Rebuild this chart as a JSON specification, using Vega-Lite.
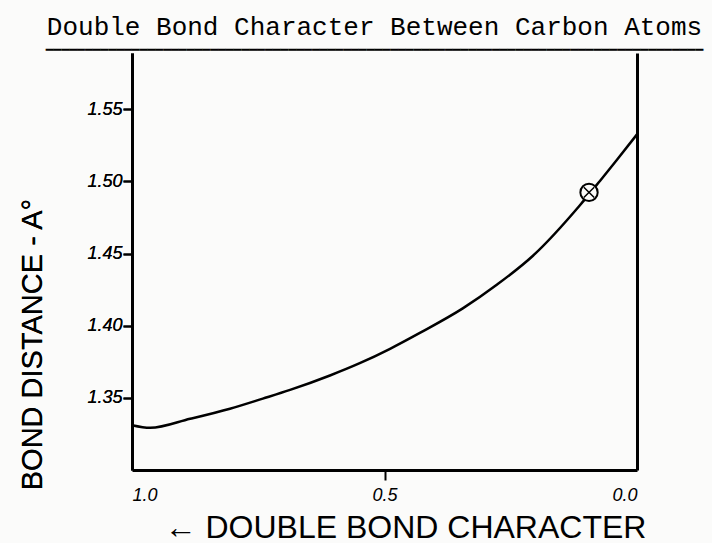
{
  "$schema": "https://vega.github.io/schema/vega-lite/v6.json",
  "width": 505,
  "height": 417,
  "autosize": "none",
  "padding": {"left": 132, "top": 53, "right": 75, "bottom": 73},
  "background": "#fbfbfa",
  "title": {
    "text": "Double Bond Character Between Carbon Atoms",
    "subtitle": "━━━━━━━━━━━━━━━━━━━━━━━━━━━━━━━━━━━━━━━━━━━━━━━━━━━━━━━━━━━━━━━━━━━━━━━━━━━━━━━━━━━━",
    "font": "Liberation Mono",
    "fontSize": 26,
    "fontWeight": "normal",
    "color": "black",
    "subtitleFont": "DejaVu Sans Mono",
    "subtitleFontSize": 13,
    "subtitleColor": "black",
    "subtitlePadding": 4,
    "anchor": "middle",
    "dx": -10,
    "offset": -4
  },
  "data": {
    "values": [
      {"character": 1.0, "distance": 1.331, "series": "curve"},
      {"character": 0.964, "distance": 1.3292, "series": "curve"},
      {"character": 0.885, "distance": 1.3355, "series": "curve"},
      {"character": 0.806, "distance": 1.3425, "series": "curve"},
      {"character": 0.741, "distance": 1.3495, "series": "curve"},
      {"character": 0.687, "distance": 1.3555, "series": "curve"},
      {"character": 0.608, "distance": 1.3655, "series": "curve"},
      {"character": 0.549, "distance": 1.374, "series": "curve"},
      {"character": 0.489, "distance": 1.384, "series": "curve"},
      {"character": 0.43, "distance": 1.395, "series": "curve"},
      {"character": 0.345, "distance": 1.412, "series": "curve"},
      {"character": 0.277, "distance": 1.4285, "series": "curve"},
      {"character": 0.206, "distance": 1.4485, "series": "curve"},
      {"character": 0.113, "distance": 1.4835, "series": "curve"},
      {"character": 0.073, "distance": 1.5005, "series": "curve"},
      {"character": 0.04, "distance": 1.5148, "series": "curve"},
      {"character": 0.0, "distance": 1.5326, "series": "curve"},
      {"character": 0.095, "distance": 1.4924, "series": "marker"}
    ]
  },
  "config": {
    "view": {"stroke": null},
    "axis": {
      "grid": false,
      "domainColor": "black",
      "domainWidth": 3,
      "tickColor": "black",
      "tickWidth": 2,
      "labelColor": "black",
      "titleColor": "black"
    }
  },
  "encoding": {
    "x": {
      "field": "character",
      "type": "quantitative",
      "scale": {"domain": [0, 1], "reverse": true, "nice": false},
      "axis": {
        "values": [1, 0.5, 0],
        "labelExpr": "datum.value == 1 ? '1.0' : datum.value == 0.5 ? '0.5' : '0.0'",
        "labelFont": "Liberation Sans",
        "labelFontStyle": "italic",
        "labelFontSize": 18,
        "labelPadding": 6,
        "tickSize": 10,
        "tickColor": {"condition": {"test": "datum.value == 0.5", "value": "black"}, "value": "transparent"},
        "title": "← DOUBLE BOND CHARACTER",
        "titleFont": "Liberation Sans",
        "titleFontSize": 32,
        "titleFontWeight": "normal",
        "titleX": 273,
        "titleY": 67,
        "titleBaseline": "alphabetic"
      }
    },
    "y": {
      "field": "distance",
      "type": "quantitative",
      "scale": {"domain": [1.3, 1.589], "nice": false, "zero": false},
      "axis": {
        "values": [1.35, 1.4, 1.45, 1.5, 1.55],
        "format": ".2f",
        "labelFont": "Liberation Sans",
        "labelFontStyle": "italic",
        "labelFontSize": 18,
        "labelPadding": 1,
        "tickSize": 9,
        "title": "BOND DISTANCE - A°",
        "titleFont": "Liberation Sans",
        "titleFontSize": 29,
        "titleFontWeight": "normal",
        "titleAngle": -90,
        "titleX": -100,
        "titleY": 291,
        "titleAlign": "center",
        "titleBaseline": "middle"
      }
    }
  },
  "layer": [
    {
      "transform": [{"filter": "datum.series == 'curve'"}],
      "mark": {"type": "line", "color": "black", "strokeWidth": 2.5, "interpolate": "monotone"}
    },
    {
      "transform": [{"filter": "datum.series == 'marker'"}],
      "mark": {"type": "point", "shape": "circle", "filled": true, "fill": "#fbfbfa", "stroke": "black", "strokeWidth": 2, "size": 300, "opacity": 1},
      "encoding": {
        "y": {
          "field": "distance",
          "type": "quantitative",
          "axis": {"orient": "right", "labels": false, "ticks": false, "title": null, "values": [1.35]}
        }
      }
    },
    {
      "transform": [{"filter": "datum.series == 'marker'"}],
      "mark": {"type": "point", "shape": "M-0.6,-0.6L0.6,0.6M-0.6,0.6L0.6,-0.6", "filled": false, "stroke": "black", "strokeWidth": 1.5, "size": 300, "opacity": 1}
    }
  ],
  "resolve": {"axis": {"y": "independent"}}
}
